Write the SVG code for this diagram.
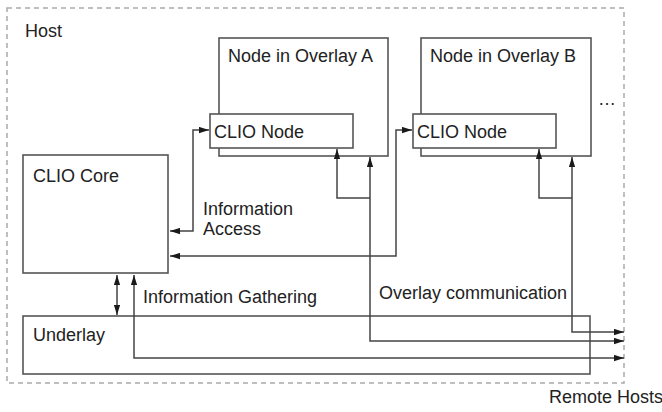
<svg xmlns="http://www.w3.org/2000/svg" width="662" height="412" viewBox="0 0 662 412">
  <style>
    .box { fill: #fff; stroke: #555; stroke-width: 1.6; }
    .host { fill: none; stroke: #aaa; stroke-width: 1.5; stroke-dasharray: 5 4; }
    .lbl { font-family: "Liberation Sans", Arial, sans-serif; font-size: 18px; fill: #222; }
    .wire { fill: none; stroke: #444; stroke-width: 1.5; }
  </style>
  <defs>
    <!-- filled arrowhead shared by every connector -->
    <marker id="arr" viewBox="0 0 10 10" refX="10" refY="5" markerWidth="10" markerHeight="7" markerUnits="userSpaceOnUse" orient="auto-start-reverse" preserveAspectRatio="none">
      <path d="M0,0.5 L10,5 L0,9.5 z" fill="#1a1a1a"/>
    </marker>
  </defs>

  <!-- host boundary -->
  <g id="host">
    <rect class="host" x="7" y="8" width="617" height="375"/>
    <text class="lbl" x="25" y="37">Host</text>
  </g>

  <g id="overlay-a">
    <rect class="box" x="219" y="38" width="169" height="118"/>
    <text class="lbl" x="228" y="62">Node in Overlay A</text>
  </g>
  <g id="clio-node-a">
    <rect class="box" x="210" y="114" width="143" height="34"/>
    <text class="lbl" x="214" y="138">CLIO Node</text>
  </g>

  <g id="overlay-b">
    <rect class="box" x="421" y="38" width="170" height="118"/>
    <text class="lbl" x="430" y="62">Node in Overlay B</text>
  </g>
  <g id="clio-node-b">
    <rect class="box" x="413" y="114" width="143" height="34"/>
    <text class="lbl" x="417" y="138">CLIO Node</text>
  </g>

  <g id="more">
    <text class="lbl" x="598" y="105">…</text>
  </g>

  <g id="clio-core">
    <rect class="box" x="23" y="155" width="145" height="118"/>
    <text class="lbl" x="33" y="182">CLIO Core</text>
  </g>

  <g id="underlay">
    <rect class="box" x="23" y="316" width="567" height="58"/>
    <text class="lbl" x="33" y="341">Underlay</text>
  </g>

  <g id="connectors">
    <!-- information access -->
    <path class="wire" d="M170,231 H193 V130 H209" marker-start="url(#arr)" marker-end="url(#arr)"/>
    <path class="wire" d="M170,256 H396 V130 H412" marker-start="url(#arr)" marker-end="url(#arr)"/>
    <!-- information gathering -->
    <path class="wire" d="M117,275 V315" marker-start="url(#arr)" marker-end="url(#arr)"/>
    <path class="wire" d="M134,275 V358 H624" marker-start="url(#arr)" marker-end="url(#arr)"/>
    <!-- overlay communication, node A -->
    <path class="wire" d="M370,198 H337 V149" marker-end="url(#arr)"/>
    <path class="wire" d="M370,157 V341 H624" marker-start="url(#arr)" marker-end="url(#arr)"/>
    <!-- overlay communication, node B -->
    <path class="wire" d="M572,198 H539 V149" marker-end="url(#arr)"/>
    <path class="wire" d="M572,157 V332 H624" marker-start="url(#arr)" marker-end="url(#arr)"/>
  </g>

  <g id="labels">
    <text class="lbl" x="203" y="215">Information</text>
    <text class="lbl" x="203" y="235">Access</text>
    <text class="lbl" x="143" y="303">Information Gathering</text>
    <text class="lbl" x="379" y="299">Overlay communication</text>
    <text class="lbl" x="549" y="403">Remote Hosts</text>
  </g>
</svg>
